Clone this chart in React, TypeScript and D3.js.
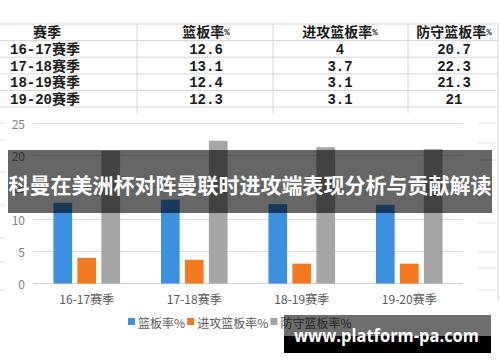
import React from "react";
import * as d3 from "d3";

const seasons = ["16-17赛季", "17-18赛季", "18-19赛季", "19-20赛季"];
const reboundRate = [12.6, 13.1, 12.4, 12.3];
const offensiveReboundRate = [4, 3.7, 3.1, 3.1];
const defensiveReboundRate = [20.7, 22.3, 21.3, 21];
const seriesNames = ["篮板率%", "进攻篮板率%", "防守篮板率%"];
const tableHeaders = ["赛季", "篮板率", "进攻篮板率", "防守篮板率"];
const yTicks = [0, 5, 10, 15, 20, 25];
const bannerTitle = "科曼在美洲杯对阵曼联时进攻端表现分析与贡献解读";
const watermark = "www.platform-pa.com";

const colors = ["#3d8fe0", "#f47820", "#a5a5a5"];
const W = 500;
const H = 362;

export default function App() {
  const series = [reboundRate, offensiveReboundRate, defensiveReboundRate];

  // chart scales
  const x0 = d3.scaleBand<string>().domain(seasons).range([33, 463]).paddingInner(0.38).paddingOuter(0.19);
  const x1 = d3.scaleBand<number>().domain([0, 1, 2]).range([0, x0.bandwidth()]).paddingInner(0.22).paddingOuter(0);
  const y = d3.scaleLinear().domain([0, 25]).range([283.5, 123.5]);

  // table geometry
  const rowY = d3.scaleLinear().domain([0, 5]).range([24, 107]);
  const colLines = [137, 273, 408, 498];
  const colCenters = [47, 206, 340, 454];

  const cjkFont = "'Noto Sans CJK SC', 'Noto Sans', sans-serif";
  const tableFont = "'Liberation Mono', 'Noto Sans CJK SC', monospace";

  // legend layout
  const legendFs = 12;
  const textW = (s: string) => {
    let w = 0;
    for (const ch of s) w += /[\u4e00-\u9fff]/.test(ch) ? legendFs : legendFs * 0.6;
    return w;
  };
  const legendItems: { x: number; name: string; color: string }[] = [];
  let lx = 128;
  seriesNames.forEach((n, i) => {
    legendItems.push({ x: lx, name: n, color: colors[i] });
    lx += 10 + textW(n) + 6;
  });

  const edgeDashesRight = [123, 143, 160, 223, 252, 268, 290];
  const edgeDashesLeft = [123, 140, 172, 205, 238, 262, 290];

  return (
    <svg width={W} height={H} style={{ position: "fixed", left: 0, top: 0, background: "#fff" }}>
      <rect x={0} y={0} width={W} height={H} fill="#fff" />

      {/* table */}
      <g>
        {d3.range(6).map((i) => (
          <line key={"h" + i} x1={0} x2={498} y1={rowY(i)} y2={rowY(i)} stroke="#d6d6d6" strokeWidth={1} />
        ))}
        {colLines.map((cx, i) => (
          <line key={"v" + i} x1={cx} x2={cx} y1={rowY(0)} y2={i === 3 ? 300 : 113} stroke="#d6d6d6" strokeWidth={1} />
        ))}
        {tableHeaders.map((h, i) => (
          <text
            key={"th" + i}
            x={colCenters[i]}
            y={(rowY(0) + rowY(1)) / 2 + 1}
            textAnchor="middle"
            dominantBaseline="central"
            fontFamily={tableFont}
            fontWeight="bold"
            fontSize={14}
            fill="#1a1a1a"
          >
            {h}
            {i > 0 ? <tspan fontSize={9}>%</tspan> : null}
          </text>
        ))}
        {seasons.map((s, r) => {
          const cy = (rowY(r + 1) + rowY(r + 2)) / 2 + 1;
          return (
            <g key={"tr" + r}>
              <text x={10} y={cy} dominantBaseline="central" fontFamily={tableFont} fontWeight="bold" fontSize={14} fill="#1a1a1a">
                {s}
              </text>
              {series.map((vals, c) => (
                <text
                  key={c}
                  x={colCenters[c + 1]}
                  y={cy}
                  textAnchor="middle"
                  dominantBaseline="central"
                  fontFamily={tableFont}
                  fontWeight="bold"
                  fontSize={14}
                  fill="#1a1a1a"
                >
                  {String(vals[r])}
                </text>
              ))}
            </g>
          );
        })}
      </g>

      {/* edge remnants */}
      {edgeDashesRight.map((yy, i) => (
        <line key={"er" + i} x1={478} x2={496} y1={yy} y2={yy} stroke="#e2e2e2" />
      ))}
      {edgeDashesLeft.map((yy, i) => (
        <line key={"el" + i} x1={0} x2={6} y1={yy} y2={yy} stroke="#e2e2e2" />
      ))}

      {/* gridlines */}
      {yTicks.map((t) => (
        <g key={"g" + t}>
          <line x1={33} x2={463} y1={y(t)} y2={y(t)} stroke={t === 0 ? "#d0d0d0" : "#dcdcdc"} strokeWidth={1} />
          <text
            x={25}
            y={y(t)}
            textAnchor="end"
            dominantBaseline="central"
            fontFamily={cjkFont}
            fontSize={12}
            fill="#7f7f7f"
          >
            {t}
          </text>
        </g>
      ))}

      {/* bars */}
      {seasons.map((s, ci) => (
        <g key={"b" + ci} transform={`translate(${x0(s)},0)`}>
          {series.map((vals, si) => (
            <rect
              key={si}
              x={x1(si)}
              y={y(vals[ci])}
              width={x1.bandwidth()}
              height={y(0) - y(vals[ci])}
              fill={colors[si]}
            />
          ))}
        </g>
      ))}

      {/* x labels */}
      {seasons.map((s) => (
        <text
          key={"xl" + s}
          x={(x0(s) as number) + x0.bandwidth() / 2}
          y={298}
          textAnchor="middle"
          dominantBaseline="central"
          fontFamily={cjkFont}
          fontSize={12}
          fill="#595959"
        >
          {s}
        </text>
      ))}

      {/* legend */}
      {legendItems.map((it) => (
        <g key={"lg" + it.name}>
          <rect x={it.x} y={318} width={7} height={7} fill={it.color} />
          <text x={it.x + 10} y={322} dominantBaseline="central" fontFamily={cjkFont} fontSize={legendFs} fill="#595959">
            {it.name}
          </text>
        </g>
      ))}

      {/* banner overlay */}
      <rect x={8} y={150} width={484} height={63} fill="rgba(0,0,0,0.6)" />
      <text
        x={250}
        y={184}
        textAnchor="middle"
        dominantBaseline="central"
        fontFamily={cjkFont}
        fontWeight="bold"
        fontSize={21}
        fill="#fff"
      >
        {bannerTitle}
      </text>

      {/* watermark */}
      <rect x={284} y={315} width={207} height={21} fill="rgba(0,0,0,0.57)" />
      <rect x={284} y={336} width={207} height={17} fill="#000" />
      <text
        x={294}
        y={342}
        textLength={185}
        lengthAdjust="spacingAndGlyphs"
        fontFamily="'Open Sans', 'DejaVu Sans', sans-serif"
        fontWeight="bold"
        fontSize={17}
        fill="#fff"
      >
        {watermark}
      </text>
    </svg>
  );
}
